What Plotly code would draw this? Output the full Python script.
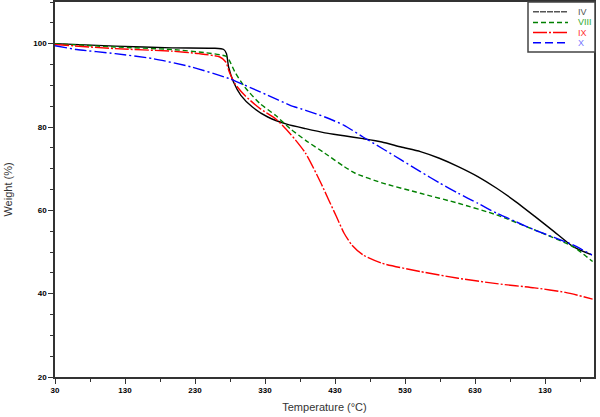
import plotly.graph_objects as go

# Temperature (°C) / Weight (%)
iv_t = [30, 116, 197, 257, 271, 275, 278, 285, 295.5, 312, 334, 361, 388, 415.5, 443, 470, 497, 524.5, 552, 579, 606, 634, 661, 688, 715, 743, 770, 797]
iv_w = [100, 99.4, 99.0, 98.9, 98.6, 97.6, 94.4, 90.8, 87.6, 84.8, 82.4, 80.7, 79.6, 78.6, 77.9, 77.2, 76.4, 75.2, 74.1, 72.5, 70.5, 68.1, 65.3, 62.1, 58.6, 54.9, 51.3, 49.3]

viii_t = [30, 116, 197, 246, 274, 279, 287, 301, 323, 345, 366, 388, 415.5, 443, 459, 497, 552, 606, 661, 715, 770, 798]
viii_w = [100, 99.2, 98.6, 97.8, 97.0, 96.0, 93.2, 89.6, 85.6, 82.8, 79.6, 76.8, 73.7, 70.5, 68.9, 66.6, 64.1, 61.7, 58.9, 55.3, 51.3, 47.7]

ix_t = [30, 116, 197, 235.6, 265.5, 274, 279, 287, 301, 323, 345, 366, 388, 410, 421, 432, 443, 454, 470, 497, 552, 606, 661, 715, 759, 798]
ix_w = [99.8, 98.8, 98.2, 97.6, 96.8, 95.6, 93.2, 90.4, 87.6, 84.4, 82.0, 78.4, 73.7, 66.5, 62.5, 58.5, 54.5, 51.7, 49.3, 47.3, 45.3, 43.7, 42.4, 41.4, 40.3, 38.7]

x_t = [30, 61, 116, 170, 225, 279, 334, 366, 388, 415.5, 443, 470, 497, 524.5, 552, 579, 606, 634, 661, 688, 715, 743, 770, 797]
x_w = [99.5, 98.6, 97.6, 96.4, 94.4, 91.6, 87.6, 85.2, 84.0, 82.4, 80.4, 77.6, 74.9, 72.1, 69.3, 66.6, 64.1, 61.7, 59.3, 57.3, 55.3, 53.5, 51.7, 49.3]

x_tickvals = [30, 130, 230, 330, 430, 530, 630, 730]
x_ticktext = ["30", "130", "230", "330", "430", "530", "630", "130"]
y_tickvals = [20, 40, 60, 80, 100]

series_names = ["IV", "VIII", "IX", "X"]
series = [
    (iv_t, iv_w, "black", "solid", "#555555", "6px,1px"),
    (viii_t, viii_w, "#008000", "5px,3px", "#33aa33", "5px,3px"),
    (ix_t, ix_w, "#ff0000", "14px,2px,2px,2px", "#ff3333", "14px,2px,2px,2px"),
    (x_t, x_w, "#0000ff", "12px,3px,2px,3px", "#7777ff", "8px,4px"),
]

W, H = 600, 417
ML, MR, MT, MB = 55, 6, 2, 40
PW, PH = W - ML - MR, H - MT - MB

def px_x(p):
    return (p - ML) / PW

def px_y(p):
    return (H - MB - p) / PH

fig = go.Figure()
for name, (t, w, col, dash, tcol, ldash) in zip(series_names, series):
    fig.add_trace(go.Scatter(
        x=t, y=w, mode="lines", name=name, showlegend=False,
        line=dict(color=col, width=1.4, dash=dash, shape="spline", smoothing=0.6),
    ))

# manual compact legend (box, line samples, coloured labels)
fig.add_shape(type="rect", xref="paper", yref="paper",
              x0=px_x(528), x1=px_x(595), y0=px_y(52), y1=px_y(2),
              line=dict(color="#444", width=1.5), fillcolor="white", layer="above")
row_y = [11.7, 22.5, 32.5, 42.7]
for name, (t, w, col, dash, tcol, ldash), ry in zip(series_names, series, row_y):
    fig.add_shape(type="line", xref="paper", yref="paper",
                  x0=px_x(533), x1=px_x(568), y0=px_y(ry), y1=px_y(ry),
                  line=dict(color=col if name != "IV" else "#555", width=1.4, dash=ldash), layer="above")
    fig.add_annotation(xref="paper", yref="paper", x=px_x(576), y=px_y(ry),
                       xanchor="left", yanchor="middle", text=name, showarrow=False,
                       font=dict(family="Liberation Sans, Arial, sans-serif", size=9, color=tcol))

axis_font = dict(family="Liberation Sans, Arial, sans-serif", size=8, color="black", weight="bold")
title_font = dict(family="Liberation Sans, Arial, sans-serif", size=11, color="#333")
fig.update_xaxes(
    range=[30, 800], tickmode="array", tickvals=x_tickvals, ticktext=x_ticktext,
    ticks="outside", ticklen=5, tickcolor="#333", tickwidth=1,
    minor=dict(ticks="outside", ticklen=3, dtick=50, tick0=30, tickcolor="#333"),
    showline=True, linecolor="#333", linewidth=1.5, mirror=True,
    showgrid=False, zeroline=False, tickfont=axis_font,
    title=dict(text="Temperature (°C)", font=title_font, standoff=9),
)
fig.update_yaxes(
    range=[20, 110], tickmode="array", tickvals=y_tickvals,
    ticks="outside", ticklen=5, tickcolor="#333", tickwidth=1,
    minor=dict(ticks="outside", ticklen=3, dtick=5, tick0=20, tickcolor="#333"),
    showline=True, linecolor="#333", linewidth=1.5, mirror=True,
    showgrid=False, zeroline=False, tickfont=axis_font,
    title=dict(text="Weight (%)", font=title_font, standoff=18),
)

fig.update_layout(
    width=W, height=H,
    margin=dict(l=ML, r=MR, t=MT, b=MB, autoexpand=False),
    plot_bgcolor="white", paper_bgcolor="white",
    showlegend=False,
)

fig.write_html("out.html", config={"displayModeBar": False},
               post_script="document.body.style.margin='0';")
